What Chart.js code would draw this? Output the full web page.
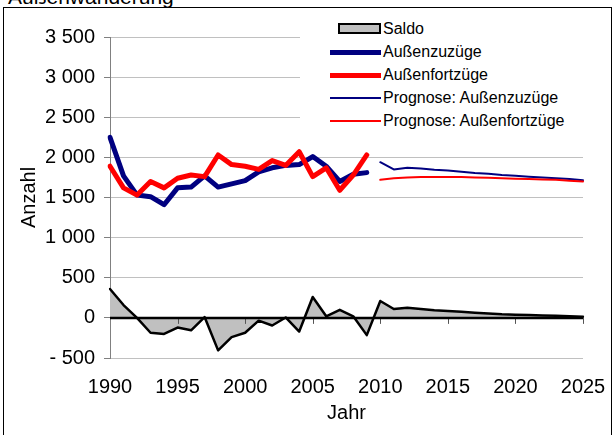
<!DOCTYPE html>
<html>
<head>
<meta charset="utf-8">
<script src="https://cdn.jsdelivr.net/npm/chart.js@4.4.0/dist/chart.umd.min.js"></script>
<style>
  body { margin: 0; background: #fff; overflow: hidden; font-family: "Liberation Sans", Arial, sans-serif; }
  #wrap { position: absolute; left: 0; top: 0; width: 616px; height: 435px; }
  #title { position: absolute; left: 8px; top: -14px; font-size: 21px; line-height: 21px; color: #000; white-space: nowrap; }
  #frame { position: absolute; left: 3px; top: 7px; width: 609px; height: 460px; border: 1px solid #000; box-sizing: border-box; }
  #legend { position: absolute; left: 300px; top: 15px; width: 304px; height: 116px; background: #fff; }
  .item { position: absolute; left: 0; height: 20px; width: 304px; font-size: 16px; line-height: 20px; white-space: nowrap; }
  .sw { position: absolute; left: 30px; width: 51px; }
  .txt { position: absolute; left: 83px; top: 0; }
</style>
</head>
<body>
<div id="title">Außenwanderung</div>
<div id="frame"></div>
<div id="wrap"><canvas id="chart"></canvas></div>
<div id="legend"></div>
<script>
// years on the category axis
const years = [];
for (let y = 1990; y <= 2025; y++) years.push(y);

// observed 1990-2009
const zuzuege = [2250, 1770, 1530, 1510, 1410, 1620, 1630, 1770, 1630, 1670,
                 1710, 1820, 1870, 1900, 1910, 2010, 1890, 1700, 1790, 1810];
const fortzuege = [1890, 1620, 1530, 1700, 1620, 1740, 1780, 1760, 2030, 1910,
                   1890, 1850, 1960, 1900, 2070, 1760, 1870, 1590, 1780, 2030];

// forecast 2010-2025
const progZuzuege = [1940, 1850, 1870, 1860, 1845, 1835, 1820, 1805,
                     1795, 1780, 1770, 1760, 1750, 1740, 1730, 1715];
const progFortzuege = [1720, 1740, 1750, 1755, 1755, 1755, 1755, 1750,
                       1745, 1740, 1735, 1730, 1725, 1720, 1710, 1700];

// balance 1990-2025
const saldo = [360, 160, 0, -185, -200, -120, -155, 10, -405, -240,
               -185, -35, -95, 5, -170, 260, 20, 100, 20, -215,
               210, 110, 125, 110, 95, 85, 75, 65, 55, 45, 40, 35, 30, 25, 20, 15];

const labels = ['Saldo', 'Außenzuzüge', 'Außenfortzüge', 'Prognose: Außenzuzüge', 'Prognose: Außenfortzüge'];
const yTicks = [-500, 0, 500, 1000, 1500, 2000, 2500, 3000, 3500];

const pad = (arr, before, after) => Array(before).fill(null).concat(arr, Array(after).fill(null));
const fmt = v => (v < 0 ? '- ' : '') + Math.abs(v).toString().replace(/\B(?=(\d{3})+(?!\d))/g, ' ');
const FONT = '"Liberation Sans", Arial, sans-serif';

// black zero axis with small tick marks, drawn on top of the saldo area
const zeroAxis = {
    id: 'zeroAxis',
    afterDatasetsDraw(chart) {
        const { ctx, chartArea, scales } = chart;
        const y0 = scales.y.getPixelForValue(0);
        ctx.save();
        ctx.strokeStyle = '#555';
        ctx.lineWidth = 1;
        years.forEach((yr, i) => {
            if (yr % 5 !== 0 || i === 0) return;
            const x = Math.round(scales.x.getPixelForValue(i)) + 0.5;
            ctx.beginPath();
            ctx.moveTo(x, y0);
            ctx.lineTo(x, y0 + 6);
            ctx.stroke();
        });
        ctx.strokeStyle = '#000';
        ctx.lineWidth = 2.5;
        ctx.beginPath();
        ctx.moveTo(chartArea.left, y0);
        ctx.lineTo(chartArea.right, y0);
        ctx.stroke();
        ctx.restore();
    }
};

const chart = new Chart(document.getElementById('chart'), {
    type: 'line',
    data: {
        labels: years,
        datasets: [
            {
                label: labels[2],
                data: pad(fortzuege, 0, 16),
                borderColor: '#ff0000',
                borderWidth: 5,
                order: 0
            },
            {
                label: labels[1],
                data: pad(zuzuege, 0, 16),
                borderColor: '#000080',
                borderWidth: 5,
                order: 1
            },
            {
                label: labels[4],
                data: pad(progFortzuege, 20, 0),
                borderColor: '#ff0000',
                borderWidth: 2,
                order: 2
            },
            {
                label: labels[3],
                data: pad(progZuzuege, 20, 0),
                borderColor: '#000080',
                borderWidth: 2,
                order: 3
            },
            {
                label: labels[0],
                data: saldo,
                borderColor: '#000',
                backgroundColor: '#c0c0c0',
                borderWidth: 2.5,
                fill: 'origin',
                order: 4
            }
        ]
    },
    options: {
        responsive: true,
        maintainAspectRatio: false,
        animation: false,
        spanGaps: false,
        elements: {
            point: { radius: 0, hoverRadius: 0 },
            line: { tension: 0, borderJoinStyle: 'round', borderCapStyle: 'round' }
        },
        layout: { padding: { left: 0, right: 33, top: 37, bottom: 0 } },
        plugins: {
            legend: { display: false },
            tooltip: { enabled: false },
            filler: { propagate: false }
        },
        scales: {
            x: {
                type: 'category',
                offset: false,
                grid: { display: false, drawTicks: false },
                border: { display: false },
                ticks: {
                    autoSkip: false,
                    maxRotation: 0,
                    padding: 17,
                    color: '#000',
                    font: { family: FONT, size: 20 },
                    callback: function (v, i) { return years[i] % 5 === 0 ? String(years[i]) : null; }
                },
                title: {
                    display: true,
                    text: 'Jahr',
                    color: '#000',
                    font: { family: FONT, size: 20 },
                    padding: { top: 0, bottom: 10 }
                },
                afterFit: function (scale) {
                    scale.height = 77;
                    scale.paddingLeft = 0;
                    scale.paddingRight = 0;
                }
            },
            y: {
                min: -500,
                max: 3500,
                afterBuildTicks: function (scale) { scale.ticks = yTicks.map(v => ({ value: v })); },
                grid: {
                    color: ctx => ctx.tick && ctx.tick.value === 0 ? '#000' : '#c0c0c0',
                    lineWidth: 1,
                    tickColor: '#808080',
                    tickLength: 6
                },
                border: { display: true, color: '#808080', width: 1 },
                ticks: {
                    padding: 9,
                    color: '#000',
                    font: { family: FONT, size: 20 },
                    callback: v => fmt(v)
                },
                title: {
                    display: true,
                    text: 'Anzahl',
                    color: '#000',
                    font: { family: FONT, size: 20 },
                    padding: { top: 17, bottom: 0 }
                },
                afterFit: function (scale) { scale.width = 110; }
            }
        }
    },
    plugins: [zeroAxis]
});

// legend drawn as html, styles taken from the datasets
const legend = document.getElementById('legend');
const byLabel = {};
chart.data.datasets.forEach(d => { byLabel[d.label] = d; });
labels.forEach((lab, i) => {
    const d = byLabel[lab];
    const item = document.createElement('div');
    item.className = 'item';
    item.style.top = (4 + i * 23) + 'px';
    const sw = document.createElement('div');
    sw.className = 'sw';
    if (d.fill) {
        sw.style.left = '38px';
        sw.style.width = '43px';
        sw.style.top = '4px';
        sw.style.height = '11px';
        sw.style.boxSizing = 'border-box';
        sw.style.background = d.backgroundColor;
        sw.style.border = '2px solid ' + d.borderColor;
    } else {
        sw.style.top = (10 - d.borderWidth / 2) + 'px';
        sw.style.height = d.borderWidth + 'px';
        sw.style.background = d.borderColor;
    }
    const t = document.createElement('span');
    t.className = 'txt';
    t.textContent = lab;
    item.appendChild(sw);
    item.appendChild(t);
    legend.appendChild(item);
});
</script>
</body>
</html>
